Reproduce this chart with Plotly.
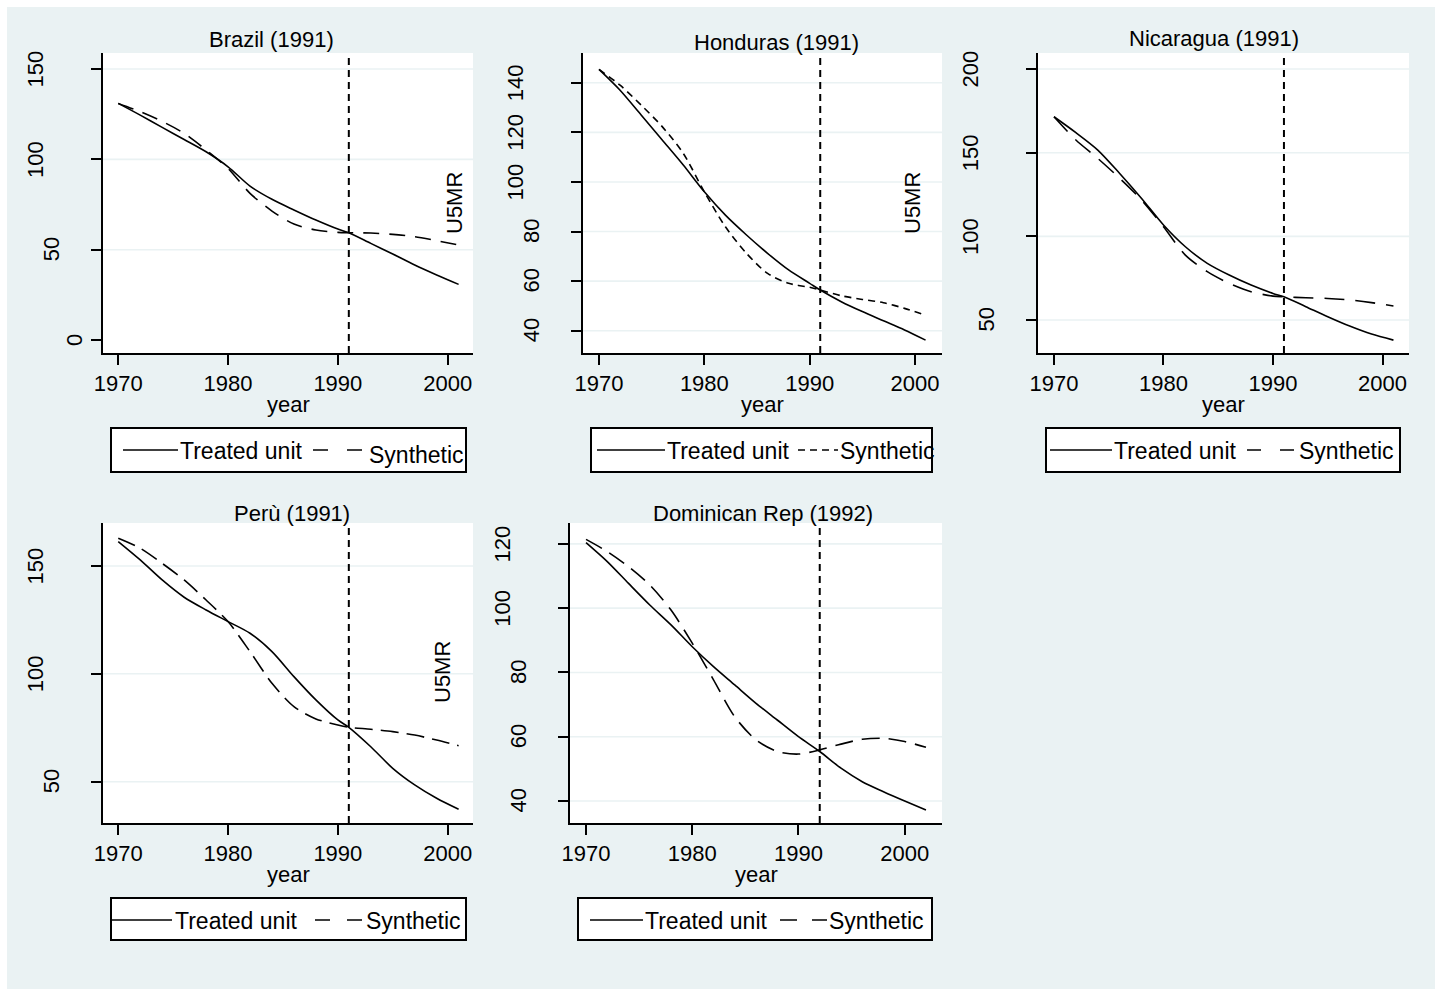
import plotly.graph_objects as go

W, H = 1435, 989
FONT = "Liberation Sans, Arial, sans-serif"

# ---------------- data ----------------
years_a = [1970, 1972, 1974, 1976, 1978, 1980, 1982, 1984, 1986, 1988, 1990, 1991,
           1993, 1995, 1997, 1999, 2001]
years_dr = [1970, 1972, 1974, 1976, 1978, 1980, 1982, 1984, 1986, 1988, 1990, 1992,
            1994, 1996, 1998, 2000, 2002]

brazil_treated = [131.0, 124.5, 117.7, 111.0, 104.2, 95.9, 85.2, 77.9, 72.0, 66.4, 61.4, 59.4,
                  53.5, 47.6, 41.5, 36.0, 30.8]
brazil_synth = [131.0, 126.4, 121.0, 114.4, 105.2, 95.0, 81.2, 71.4, 64.2, 60.9, 59.6, 59.4,
                59.2, 58.5, 57.2, 55.0, 52.6]

honduras_treated = [145.4, 137.0, 127.0, 116.9, 106.8, 96.0, 86.6, 78.6, 71.2, 64.5, 59.1, 56.4,
                    51.7, 47.7, 44.0, 40.3, 36.2]
honduras_synth = [145.4, 139.0, 131.0, 122.3, 111.5, 96.0, 81.9, 71.2, 63.1, 59.1, 57.5, 56.4,
                  54.1, 52.6, 51.3, 49.0, 46.3]

nicaragua_treated = [171.5, 162.0, 151.6, 137.6, 122.7, 106.8, 93.8, 83.9, 76.9, 70.9, 65.9, 63.9,
                     58.0, 52.0, 46.4, 41.6, 38.0]
nicaragua_synth = [171.5, 157.6, 146.6, 134.7, 121.7, 105.8, 88.8, 78.9, 71.9, 66.9, 64.3, 63.9,
                   63.3, 62.9, 62.0, 60.4, 58.4]

peru_treated = [161.3, 152.8, 143.5, 135.5, 129.6, 124.2, 118.8, 110.3, 98.7, 87.9, 78.6, 75.2,
                66.2, 56.2, 48.5, 42.3, 37.2]
peru_synth = [162.8, 158.2, 151.2, 143.5, 134.2, 124.2, 110.3, 95.6, 84.8, 79.1, 76.3, 75.2,
              74.3, 73.2, 71.6, 69.3, 66.7]

dominican_treated = [120.4, 114.5, 107.7, 101.0, 94.8, 88.0, 81.8, 76.1, 70.4, 65.2, 60.0, 55.4,
                     50.2, 46.0, 42.9, 40.0, 37.2]
dominican_synth = [121.4, 117.6, 112.9, 107.2, 99.4, 89.1, 77.7, 66.2, 59.0, 55.4, 54.6, 55.9,
                   57.7, 59.2, 59.5, 58.5, 56.7]

titles = ["Brazil (1991)", "Honduras (1991)", "Nicaragua (1991)", "Perù (1991)", "Dominican Rep (1992)"]
treat_years = [1991, 1991, 1991, 1991, 1992]
x_ticks = [1970, 1980, 1990, 2000]
y_ticks = [[0, 50, 100, 150], [40, 60, 80, 100, 120, 140], [50, 100, 150, 200],
           [50, 100, 150], [40, 60, 80, 100, 120]]
y_grid = [[50, 100, 150], [40, 60, 80, 100, 120, 140], [50, 100, 150, 200],
          [50, 100, 150], [40, 60, 80, 100, 120]]
legend_labels = ["Treated unit", "Synthetic"]
axis_title_x = "year"
axis_title_y = "U5MR"

series = [
    (years_a, brazil_treated, brazil_synth),
    (years_a, honduras_treated, honduras_synth),
    (years_a, nicaragua_treated, nicaragua_synth),
    (years_a, peru_treated, peru_synth),
    (years_dr, dominican_treated, dominican_synth),
]

# ---------------- layout geometry (pixels) ----------------
# plot area: left, right, top, bottom
dom = [(103, 473, 53, 353), (583, 942, 53, 353), (1038, 1409, 53, 353),
       (103, 473, 523, 823), (570, 942, 523, 823)]
xr = [(1968.61, 2002.31), (1968.48, 2002.56), (1968.54, 2002.42),
      (1968.61, 2002.31), (1968.49, 2003.51)]
yr = [(-7.2, 158.9), (31.0, 152.0), (30.3, 209.6), (30.85, 169.9), (33.15, 126.5)]
synth_dash = ["16px,10px", "7px,5px", "20px,11px", "18px,8px", "18px,9px"]
title_pos = [(271, 40), (776, 42), (1214, 38), (292, 513), (763, 513)]
u5mr_pos = [(455, 203), (913, 203), None, (442, 672), None]
# legend: box (l, t, r, b), solid x0,x1, text1 x, dash x0,x1, text2 x, line y, text1 y, text2 y, dash
legends = [
    ((111, 428, 466, 472), (123, 178), 178, (313, 366), 367, 450, 451, 455, "15px,19px"),
    ((591, 428, 932, 472), (597, 665), 665, (798, 838), 838, 450, 451, 451, "7px,5px"),
    ((1046, 428, 1400, 472), (1050, 1112), 1112, (1247, 1297), 1297, 450, 451, 451, "14px,19px"),
    ((111, 898, 466, 940), (112, 172), 173, (315, 363), 364, 920, 921, 921, "15px,17px"),
    ((578, 898, 932, 940), (590, 643), 643, (780, 827), 827, 920, 921, 921, "17px,15px"),
]
label_dist = {1: 29, 2: 51.5, 3: 67.5}


def fx(p):
    return p / W


def fy(p):
    return 1 - p / H


fig = go.Figure()
shapes = []
annotations = []

# thin white edge strips (left / top) of the outer frame
shapes.append(dict(type="rect", xref="paper", yref="paper", x0=0, x1=fx(7), y0=0, y1=1,
                   fillcolor="white", line_width=0, layer="below"))
shapes.append(dict(type="rect", xref="paper", yref="paper", x0=0, x1=1, y0=fy(7), y1=1,
                   fillcolor="white", line_width=0, layer="below"))

for i in range(5):
    n = "" if i == 0 else str(i + 1)
    xa, ya = "x" + n, "y" + n
    l, r, t, b = dom[i]
    yrs, tr, sy = series[i]

    fig.add_trace(go.Scatter(x=yrs, y=tr, mode="lines", xaxis=xa, yaxis=ya,
                             line=dict(color="black", width=1.6, shape="spline", smoothing=0.8),
                             showlegend=False, hoverinfo="skip"))
    fig.add_trace(go.Scatter(x=yrs, y=sy, mode="lines", xaxis=xa, yaxis=ya,
                             line=dict(color="black", width=1.6, dash=synth_dash[i],
                                       shape="spline", smoothing=0.8),
                             showlegend=False, hoverinfo="skip"))

    fig.layout["xaxis" + n] = dict(
        domain=[fx(l), fx(r)], anchor=ya, range=list(xr[i]),
        tickmode="array", tickvals=x_ticks, ticks="outside", ticklen=10, tickwidth=1.6,
        tickcolor="black", showline=True, linecolor="black", linewidth=2,
        showgrid=False, zeroline=False, tickfont=dict(family=FONT, size=22, color="black"),
        ticklabelstandoff=0, fixedrange=True)
    fig.layout["yaxis" + n] = dict(
        domain=[fy(b), fy(t)], anchor=xa, range=list(yr[i]),
        tickmode="array", tickvals=y_ticks[i], ticks="outside", ticklen=10, tickwidth=1.6,
        tickcolor="black", showline=True, linecolor="black", linewidth=2,
        showgrid=False, zeroline=False, showticklabels=False, fixedrange=True)

    # grid lines
    for g in y_grid[i]:
        shapes.append(dict(type="line", xref=xa + " domain", yref=ya, x0=0, x1=1, y0=g, y1=g,
                           line=dict(color="#EAF2F3", width=1.6), layer="below"))

    # treatment year vertical line
    shapes.append(dict(type="line", xref=xa, yref=ya + " domain", x0=treat_years[i],
                       x1=treat_years[i], y0=0, y1=1,
                       line=dict(color="black", width=2, dash="7px,5px")))

    # y tick labels (rotated)
    for v in y_ticks[i]:
        s = str(v)
        annotations.append(dict(text=s, xref="paper", yref=ya, x=fx(l - label_dist[len(s)]), y=v,
                                textangle=-90, showarrow=False, xanchor="center", yanchor="middle",
                                font=dict(family=FONT, size=22, color="black")))

    # title
    tx, ty = title_pos[i]
    annotations.append(dict(text=titles[i], xref="paper", yref="paper", x=fx(tx), y=fy(ty),
                            showarrow=False, xanchor="center", yanchor="middle",
                            font=dict(family=FONT, size=22, color="black")))
    # x axis title
    annotations.append(dict(text=axis_title_x, xref="paper", yref="paper", x=fx((l + r) / 2),
                            y=fy(b + 51), showarrow=False, xanchor="center", yanchor="middle",
                            font=dict(family=FONT, size=22, color="black")))
    # U5MR label
    if u5mr_pos[i] is not None:
        ux, uy = u5mr_pos[i]
        annotations.append(dict(text=axis_title_y, xref="paper", yref="paper", x=fx(ux), y=fy(uy),
                                textangle=-90, showarrow=False, xanchor="center", yanchor="middle",
                                font=dict(family=FONT, size=22, color="black")))

    # legend
    box, sol, t1x, dsh, t2x, ly, t1y, t2y, ldash = legends[i]
    shapes.append(dict(type="rect", xref="paper", yref="paper", x0=fx(box[0]), x1=fx(box[2]),
                       y0=fy(box[3]), y1=fy(box[1]), fillcolor="white",
                       line=dict(color="black", width=2)))
    shapes.append(dict(type="line", xref="paper", yref="paper", x0=fx(sol[0]), x1=fx(sol[1]),
                       y0=fy(ly), y1=fy(ly), line=dict(color="black", width=1.6)))
    shapes.append(dict(type="line", xref="paper", yref="paper", x0=fx(dsh[0]), x1=fx(dsh[1]),
                       y0=fy(ly), y1=fy(ly), line=dict(color="black", width=1.6, dash=ldash)))
    annotations.append(dict(text=legend_labels[0], xref="paper", yref="paper", x=fx(t1x), y=fy(t1y),
                            showarrow=False, xanchor="left", yanchor="middle",
                            font=dict(family=FONT, size=23, color="black")))
    annotations.append(dict(text=legend_labels[1], xref="paper", yref="paper", x=fx(t2x), y=fy(t2y),
                            showarrow=False, xanchor="left", yanchor="middle",
                            font=dict(family=FONT, size=23, color="black")))

fig.update_layout(width=W, height=H, autosize=False,
                  margin=dict(l=0, r=0, t=0, b=0, pad=0, autoexpand=False),
                  paper_bgcolor="#EAF2F3", plot_bgcolor="white",
                  shapes=shapes, annotations=annotations, showlegend=False)

fig.write_html("out.html", config={"displayModeBar": False})
